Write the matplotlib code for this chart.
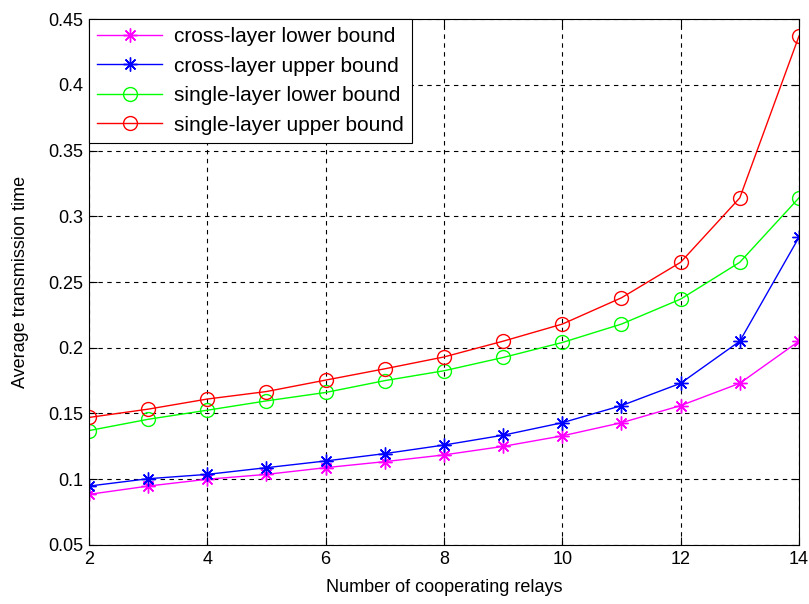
import numpy as np
import matplotlib
matplotlib.use('Agg')
import matplotlib.pyplot as plt

plt.rcParams['font.family'] = ['Liberation Sans', 'DejaVu Sans']

relays = [2, 3, 4, 5, 6, 7, 8, 9, 10, 11, 12, 13, 14]
cross_lower = [0.0885, 0.0948, 0.1000, 0.1037, 0.1088, 0.1134, 0.1185, 0.1250, 0.1330, 0.1430, 0.1560, 0.1730, 0.2050]
cross_upper = [0.0948, 0.1004, 0.1037, 0.1088, 0.1139, 0.1195, 0.1260, 0.1335, 0.1430, 0.1560, 0.1730, 0.2050, 0.2840]
single_lower = [0.1370, 0.1456, 0.1525, 0.1596, 0.1660, 0.1750, 0.1825, 0.1926, 0.2040, 0.2180, 0.2370, 0.2650, 0.3140]
single_upper = [0.1470, 0.1533, 0.1610, 0.1667, 0.1754, 0.1840, 0.1930, 0.2050, 0.2180, 0.2380, 0.2650, 0.3140, 0.4370]

# matlab style asterisk: 8 arms
aster = (8, 2, 0)

fig = plt.figure(figsize=(8.09, 6.04), dpi=100)
ax = fig.add_axes([0.110, 0.0977, 0.8776, 0.8708])

ax.plot(relays, cross_lower, '-', marker=aster, color='#ff00ff', lw=1, ms=10, mew=1, label='cross-layer lower bound')
ax.plot(relays, cross_upper, '-', marker=aster, color='#0000ff', lw=1, ms=10, mew=1, label='cross-layer upper bound')
ax.plot(relays, single_lower, '-o', color='#00ff00', lw=1, ms=10, mew=1, mfc='none', label='single-layer lower bound')
ax.plot(relays, single_upper, '-o', color='#ff0000', lw=1, ms=10, mew=1, mfc='none', label='single-layer upper bound')

ax.set_xlim(2, 14)
ax.set_ylim(0.05, 0.45)
ax.set_xticks(np.arange(2, 15, 2))
ax.set_yticks(np.arange(0.05, 0.451, 0.05))
ax.set_yticklabels(['0.05', '0.1', '0.15', '0.2', '0.25', '0.3', '0.35', '0.4', '0.45'])
ax.grid(True, color='black', linestyle=(0, (4, 4)), lw=0.8)
ax.tick_params(direction='in', top=True, right=True, labelsize=13, length=6, pad=4)
for s in ax.spines.values():
    s.set_linewidth(0.8)

ax.set_xlabel('Number of cooperating relays', fontsize=13, labelpad=8)
ax.set_ylabel('Average transmission time', fontsize=13, labelpad=14)

leg = ax.legend(loc='upper left', fontsize=15, fancybox=False, edgecolor='black',
                framealpha=1, borderaxespad=0, handlelength=3.1, handletextpad=0.6,
                labelspacing=0.5, borderpad=0.4)
leg.get_frame().set_linewidth(0.8)

plt.savefig('out.png', dpi=100)
